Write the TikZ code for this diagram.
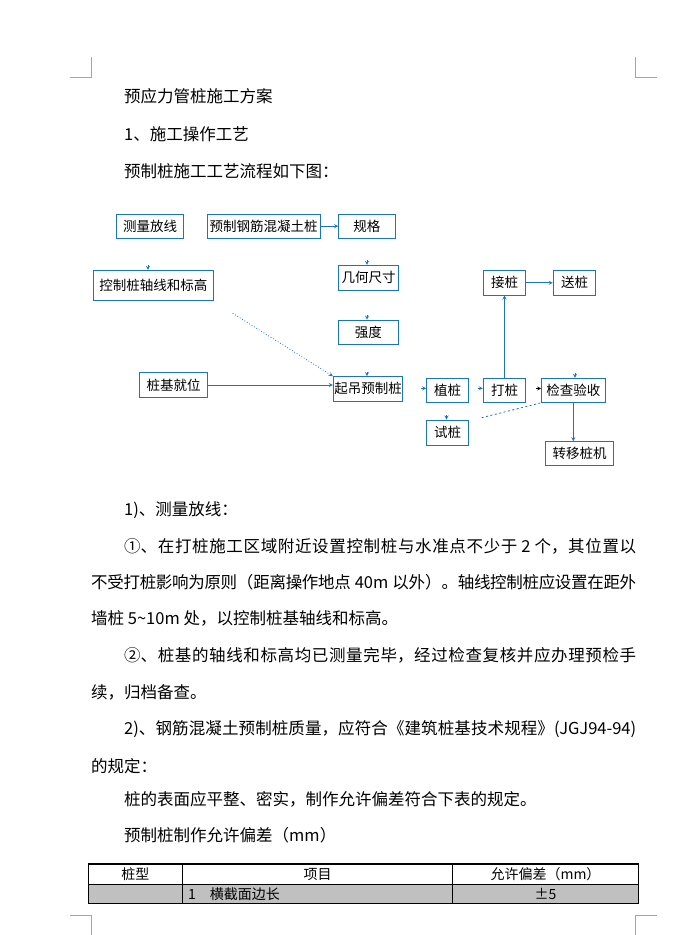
\documentclass[tikz,border=0pt]{standalone}
\usepackage{fontspec}
\setmainfont{Noto Sans CJK SC}
\usepackage{xcolor}
\usetikzlibrary{arrows, positioning, calc}
\definecolor{boxblue}{RGB}{28,117,188}
\definecolor{markgray}{RGB}{165,165,165}
\definecolor{rowgray}{RGB}{192,192,192}
\XeTeXlinebreaklocale "zh"
\XeTeXlinebreakskip=0pt plus 2pt minus 1.2pt
\newcommand{\bodyfont}{\fontsize{16.5}{20}\selectfont}
\newcommand{\boxfont}{\fontsize{13.5}{16}\selectfont}
\newcommand{\tabfont}{\fontsize{14}{17}\selectfont}
\newcommand{\jline}[2]{\parbox[c]{#1pt}{\parfillskip=0pt\relax #2}}

\begin{document}
\begin{tikzpicture}[
  x = 1pt, y = -1pt,
  txt/.style = {anchor=west, inner sep=0pt, font=\bodyfont},
  box/.style = {draw=boxblue, line width=0.9pt, rectangle, inner sep=0pt, font=\boxfont},
  line/.style = {draw=boxblue, -stealth, line width=0.8pt},
  cornermark/.style = {draw=markgray, line width=0.8pt},
  cell/.style = {inner sep=0pt, font=\tabfont}
  ]
 \useasboundingbox (0,0) rectangle (698,935);
 \fill[white] (0,0) rectangle (698,935);
 % Page corner marks
 \draw[cornermark] (70,77) -- (91.7,77) -- (91.7,57);
 \draw[cornermark] (656.7,77) -- (635.7,77) -- (635.7,57);
 \draw[cornermark] (70,915.7) -- (91.7,915.7) -- (91.7,935);
 \draw[cornermark] (656.7,915.7) -- (635.7,915.7) -- (635.7,935);
 % Heading lines
 \node[txt] (title) at (124,96) {预应力管桩施工方案};
 \node[txt] (sec1) at (124,134.5) {1、施工操作工艺};
 \node[txt] (intro) at (124,171) {预制桩施工工艺流程如下图：};
 % Flow chart boxes
 \node[box, minimum width=66.6pt, minimum height=24.3pt] (clfx) at (150,226.2) {测量放线};
 \node[box, minimum width=112.7pt, minimum height=24.3pt] (yzgj) at (263.7,226.2) {预制钢筋混凝土桩};
 \node[box, minimum width=56.3pt, minimum height=24.3pt] (gg) at (366.8,226.2) {规格};
 \node[box, minimum width=120pt, minimum height=29.7pt] (kzzx) at (153.3,285.2) {控制桩轴线和标高};
 \node[box, minimum width=59.6pt, minimum height=24.7pt] (jhcc) at (368.5,277.7) {几何尺寸};
 \node[box, minimum width=60pt, minimum height=24.3pt] (qd) at (368.3,332.2) {强度};
 \node[box, minimum width=69.4pt, minimum height=24.3pt] (qdyz) at (368,388.8) {起吊预制桩};
 \node[box, minimum width=68.4pt, minimum height=25.4pt] (zjjw) at (173.5,385) {桩基就位};
 \node[box, minimum width=42.4pt, minimum height=24.3pt] (jiez) at (504.5,282.8) {接桩};
 \node[box, minimum width=42.4pt, minimum height=24.3pt] (songz) at (574.5,282.8) {送桩};
 \node[box, minimum width=41.6pt, minimum height=24pt] (zhiz) at (447.5,390.3) {植桩};
 \node[box, minimum width=42.4pt, minimum height=24pt] (daz) at (504.5,390.3) {打桩};
 \node[box, minimum width=63.3pt, minimum height=24pt] (jcys) at (573.3,390.3) {检查验收};
 \node[box, minimum width=41.6pt, minimum height=25pt] (shiz) at (447.5,432.5) {试桩};
 \node[box, minimum width=67.6pt, minimum height=23.3pt] (zyzj) at (579.5,453.3) {转移桩机};
 % Free ends
 \coordinate (kzin) at (148,265);
 \coordinate (jhin) at (367,260);
 \coordinate (qdin) at (367,315);
 \coordinate (qdyzin) at (367,371.5);
 \coordinate (zhizin) at (421,388.3);
 \coordinate (dazin) at (477.5,388.3);
 \coordinate (jcysin) at (536,388.5);
 \coordinate (jcystop) at (575,372.5);
 \coordinate (shizin) at (446.5,415);
 \coordinate (dotstart) at (232.7,313.3);
 \coordinate (dashstart) at (481.7,417.7);
 % Arrows
 \draw[line] (yzgj) -- (gg);
 \draw[line] (zjjw.east) -- (zjjw.east -| qdyz.west);
 \draw[line, dotted] (dotstart) -- (qdyz.north west);
 \draw[line] (daz) -- (jiez);
 \draw[line] (jiez) -- (songz);
 \draw[line] (jcys.south) -- (jcys.south |- zyzj.north);
 \draw[draw=boxblue, line width=0.8pt, dash pattern=on 2pt off 2.5pt] (dashstart) -- (jcys.south west);
 \draw[line] (kzin) -- (kzin |- kzzx.north);
 \draw[line] (jhin) -- (jhin |- jhcc.north);
 \draw[line] (qdin) -- (qdin |- qd.north);
 \draw[line] (qdyzin) -- (qdyzin |- qdyz.north);
 \draw[line] (zhizin) -- (zhizin -| zhiz.west);
 \draw[line] (dazin) -- (dazin -| daz.west);
 \draw[line, draw=black] (jcysin) -- (jcysin -| jcys.west);
 \draw[line] (jcystop) -- (jcystop |- jcys.north);
 \draw[line] (shizin) -- (shizin |- shiz.north);
 % Body text
 \node[txt] (p1) at (124,510) {1)、测量放线：};
 \node[txt] (p1a) at (124,546) {\jline{512}{①、在打桩施工区域附近设置控制桩与水准点不少于\hspace{4pt}2\hspace{4pt}个，其位置以}};
 \node[txt] (p1b) at (91,582) {\jline{545}{不受打桩影响为原则（距离操作地点\hspace{4pt}40m\hspace{4pt}以外）。轴线控制桩应设置在距外}};
 \node[txt] (p1c) at (91,618) {墙桩 5\textasciitilde10m 处，以控制桩基轴线和标高。};
 \node[txt] (p2a) at (124,655) {\jline{512}{②、桩基的轴线和标高均已测量完毕，经过检查复核并应办理预检手}};
 \node[txt] (p2b) at (91,692) {续，归档备查。};
 \node[txt] (p3a) at (124,729) {\jline{512}{2)、钢筋混凝土预制桩质量，应符合《建筑桩基技术规程》(JGJ94-94)}};
 \node[txt] (p3b) at (91,766) {的规定：};
 \node[txt] (p4) at (124,799) {桩的表面应平整、密实，制作允许偏差符合下表的规定。};
 \node[txt] (p5) at (124,835) {预制桩制作允许偏差（mm）};
 % Table
 \fill[rowgray] (88.3,884.5) rectangle (638.3,903.5);
 \draw[line width=0.6pt] (88.3,884.5) -- (638.3,884.5);
 \draw[line width=0.6pt] (182.5,864) -- (182.5,903.5);
 \draw[line width=0.6pt] (452.7,864) -- (452.7,903.5);
 \draw[line width=1.2pt] (88.3,864) rectangle (638.3,903.5);
 \node[cell] (hzx) at (135.4,874.2) {桩型};
 \node[cell] (hxm) at (317.6,874.2) {项目};
 \node[cell] (hpc) at (545.5,874.2) {允许偏差（mm）};
 \node[cell, anchor=west] (rxm) at (188,894) {1\quad 横截面边长};
 \node[cell] (rpc) at (545.5,894) {±5};
\end{tikzpicture}
\end{document}
